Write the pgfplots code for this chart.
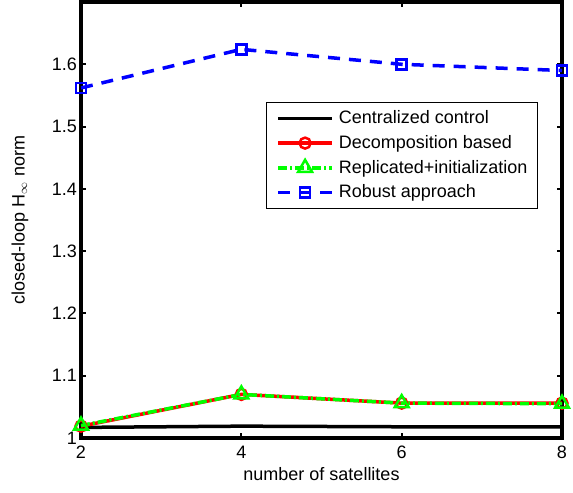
\documentclass[border=0pt]{standalone}
\usepackage{fontspec}
\setmainfont{Liberation Sans}
\usepackage{pgfplots}
\pgfplotsset{compat=1.18}
\begin{document}
\fontsize{18bp}{21bp}\selectfont
\begin{tikzpicture}
\useasboundingbox (-81bp,-55bp) rectangle (492bp,438bp);
\begin{axis}[
  at={(0,0)}, anchor=south west,
  scale only axis, width=481bp, height=436bp,
  xmin=2, xmax=8, ymin=1, ymax=1.7,
  xtick={2,4,6,8},
  ytick={1,1.1,1.2,1.3,1.4,1.5,1.6},
  tick align=inside, major tick length=5bp,
  axis line style={line width=3.5bp},
  tick style={line width=2bp, black},
  /pgf/number format/assume math mode=true,
  yticklabel style={/pgf/number format/fixed, /pgf/number format/precision=1, xshift=2bp},
  xticklabel style={yshift=-2bp},
  xlabel={number of satellites},
  ylabel={closed-loop H$_\infty$ norm},
  xlabel style={at={(axis description cs:0.5,-0.0826)}, anchor=center},
  ylabel style={at={(axis description cs:-0.127,0.5)}, anchor=center, rotate=0},
  legend style={at={(axis description cs:0.950,0.7706)}, anchor=north east,
    draw=black, line width=1bp, row sep=5bp, inner xsep=8bp, inner ysep=6bp,
    font=\fontsize{18bp}{21bp}\selectfont},
  legend cell align=left,
  legend image code/.code={\path (-2bp,0bp) (57bp,0bp);\draw[mark repeat=2,mark phase=2] plot coordinates {(0bp,0bp) (27bp,0bp) (54bp,0bp)};},
]
\addplot[black, line width=3.5bp] coordinates {(2,1.017) (4,1.019) (6,1.018) (8,1.018)};
\addlegendentry{Centralized control}
\addplot[red, line width=3.5bp, mark=o, mark size=5.5bp, mark options={line width=2.5bp, solid}] coordinates {(2,1.019) (4,1.070) (6,1.056) (8,1.056)};
\addlegendentry{Decomposition based}
\addplot[green, line width=3.5bp, dash pattern=on 9bp off 3bp on 2bp off 3bp, mark=triangle, mark size=8bp, mark options={line width=2.5bp, solid}] coordinates {(2,1.020) (4,1.070) (6,1.056) (8,1.055)};
\addlegendentry{Replicated+initialization}
\addplot[blue, line width=3.5bp, dash pattern=on 12bp off 9bp, mark=square, mark size=5bp, mark options={line width=2.5bp, solid}] coordinates {(2,1.562) (4,1.624) (6,1.600) (8,1.590)};
\addlegendentry{Robust approach}
\end{axis}
\end{tikzpicture}
\end{document}
